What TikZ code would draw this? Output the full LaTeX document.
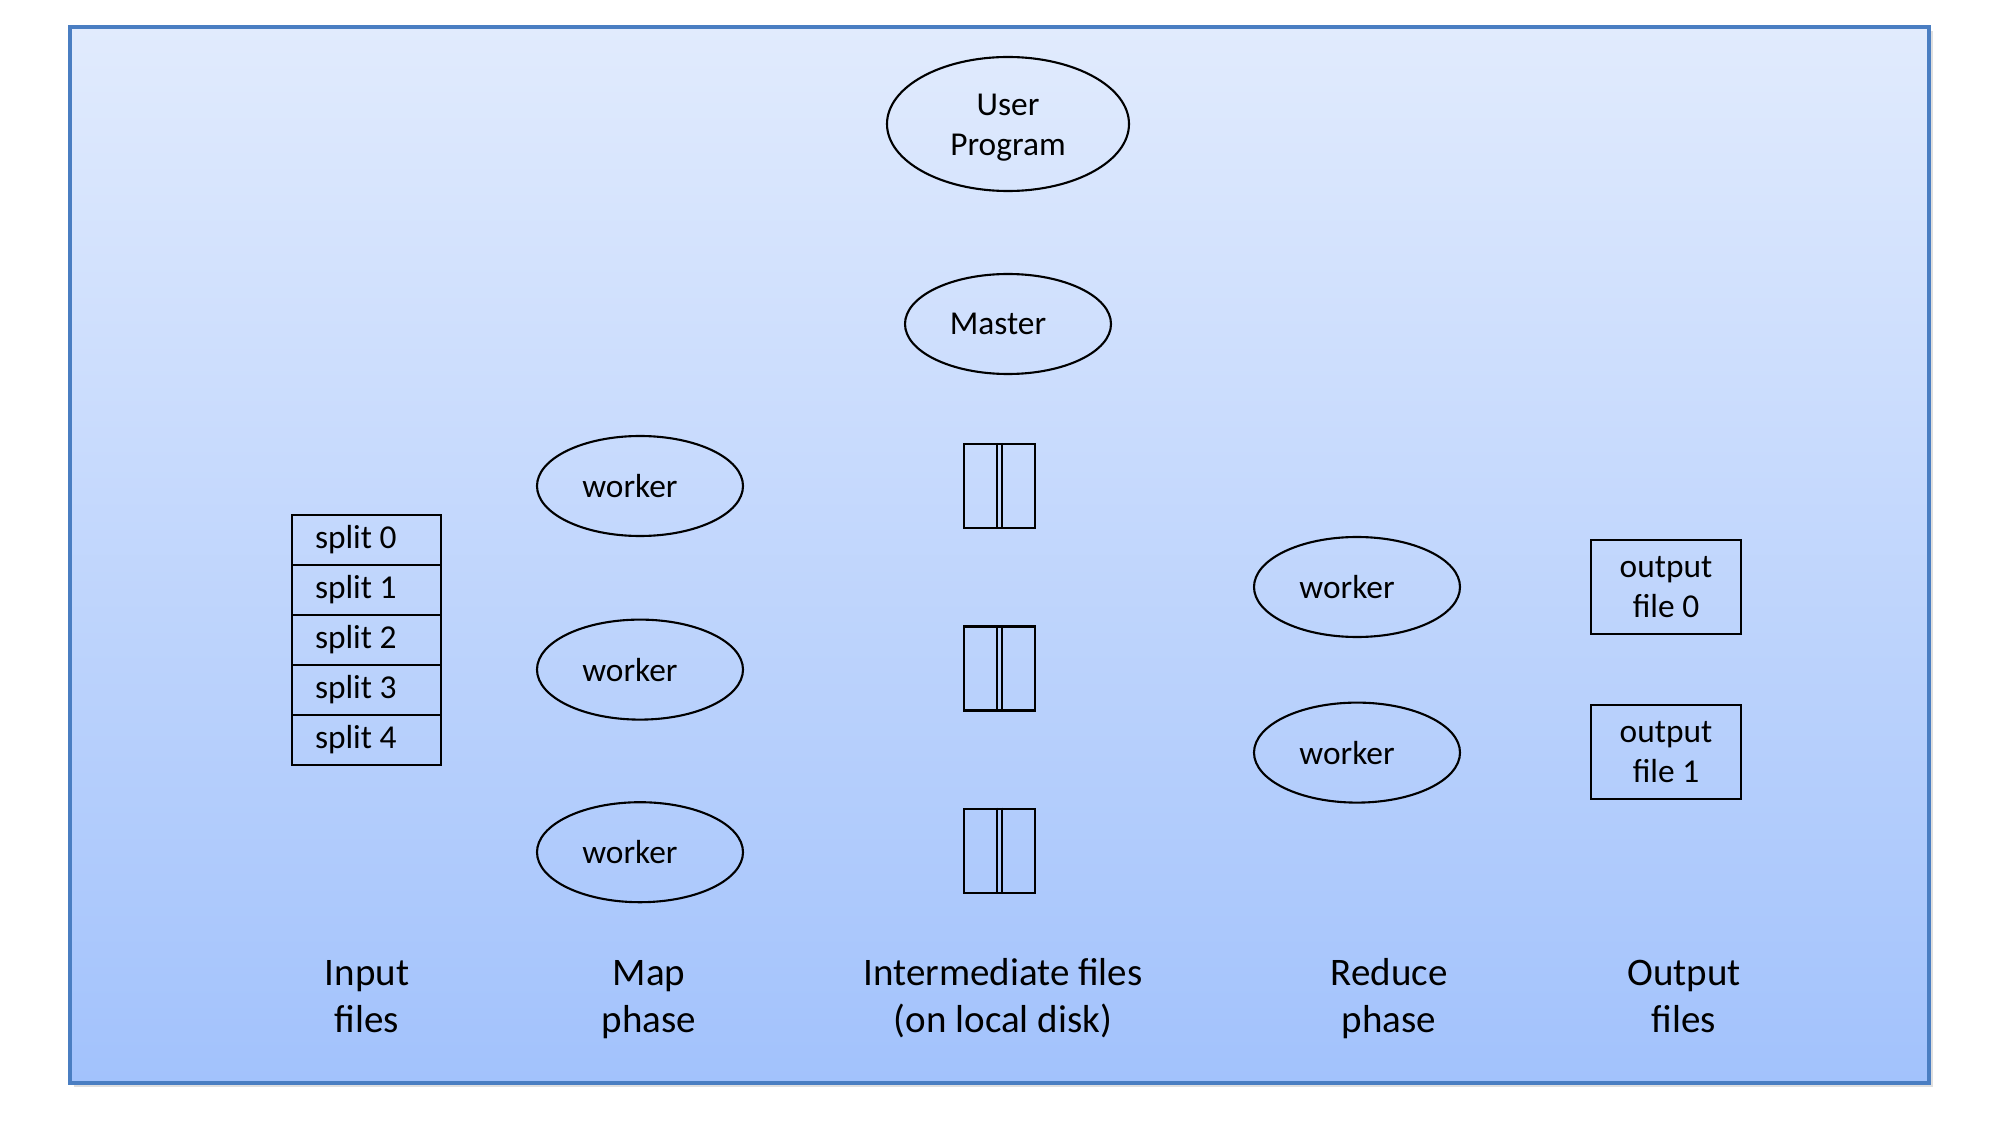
\documentclass[tikz,border=0pt]{standalone}
\usepackage{fontspec}
\setmainfont{Carlito}
\usetikzlibrary{
positioning,
shapes.geometric,
shadows
}
\definecolor{MRTop}{HTML}{E1EBFD}
\definecolor{MRBottom}{HTML}{A2C2FC}
\definecolor{MRFrame}{HTML}{4A7EC2}
\tikzset{
mrprogram/.style={draw=black, ellipse, line width=0.6pt, align=center, inner sep=0pt,
  minimum width=24.2mm, minimum height=13.4mm, font=\fontsize{9.5}{11.6}\selectfont},
mrworker/.style={draw=black, ellipse, line width=0.6pt, inner sep=0pt,
  minimum width=20.6mm, minimum height=10mm, font=\fontsize{9.5}{11.4}\selectfont,
  execute at end node={\kern2mm}},
mrsplit/.style={draw=black, line width=0.7pt, outer sep=0pt, inner ysep=0pt, inner xsep=2.3mm,
  text width=10.3mm, align=flush left, minimum height=5mm, font=\fontsize{9.5}{11.4}\selectfont},
mrfile/.style={draw=black, line width=0.7pt, inner sep=0pt,
  minimum width=7.1mm, minimum height=8.4mm},
mroutput/.style={draw=black, line width=0.7pt, align=center, inner sep=0pt,
  minimum width=15mm, minimum height=9.4mm, font=\fontsize{9.5}{11.4}\selectfont},
mrlabel/.style={align=center, font=\fontsize{11.1}{13.4}\selectfont}
}
\begin{document}
\begin{tikzpicture}
\useasboundingbox (0,0) rectangle (20,11.25);
\draw[draw=MRFrame, line width=1pt, top color=MRTop, bottom color=MRBottom,
  drop shadow={opacity=0.25, shadow xshift=0.4mm, shadow yshift=-0.4mm}]
  (0.70,0.42) rectangle (19.29,10.98);

\node[mrprogram] (user) at (10.08,10.01) {\strut User\\Program};
\node[mrworker] (master) at (10.08,8.01) {Master};

% input splits
\node[mrsplit] (split0) at (3.665,5.85) {split 0};
\foreach \i [evaluate=\i as \j using int(\i-1)] in {1,...,4}
  \node[mrsplit, below=0mm of split\j] (split\i) {split \i};

% map phase
\node[mrworker] (map1) at (6.40,6.39) {worker};
\node[mrworker, below=8.15mm of map1] (map2) {worker};
\node[mrworker, below=8.05mm of map2] (map3) {worker};

% intermediate files
\node[mrfile] (inter1) at (9.995,6.39) {};
\node[mrfile, below=9.6mm of inter1] (inter2) {};
\node[mrfile, below=9.6mm of inter2] (inter3) {};
\foreach \f in {inter1,inter2,inter3} {
  \draw[line width=0.6pt] ([xshift=-0.25mm]\f.north) -- ([xshift=-0.25mm]\f.south);
  \draw[line width=0.6pt] ([xshift=0.25mm]\f.north) -- ([xshift=0.25mm]\f.south);
}

% reduce phase
\node[mrworker] (reduce1) at (13.57,5.38) {worker};
\node[mrworker, below=6.35mm of reduce1] (reduce2) {worker};

% output files
\node[mroutput] (out0) at (16.66,5.38) {output\\file 0};
\node[mroutput, below=6.85mm of out0] (out1) {output\\file 1};

\node[mrlabel] (lblinput) at (3.67,1.25) {Input\strut\\files\strut};
\node[mrlabel] (lblmap) at (6.49,1.25) {Map\strut\\phase\strut};
\node[mrlabel] (lblinter) at (10.03,1.25) {Intermediate files\strut\\(on local disk)\strut};
\node[mrlabel] (lblreduce) at (13.89,1.25) {Reduce\strut\\phase\strut};
\node[mrlabel] (lbloutput) at (16.84,1.25) {Output\strut\\files\strut};
\end{tikzpicture}
\end{document}
